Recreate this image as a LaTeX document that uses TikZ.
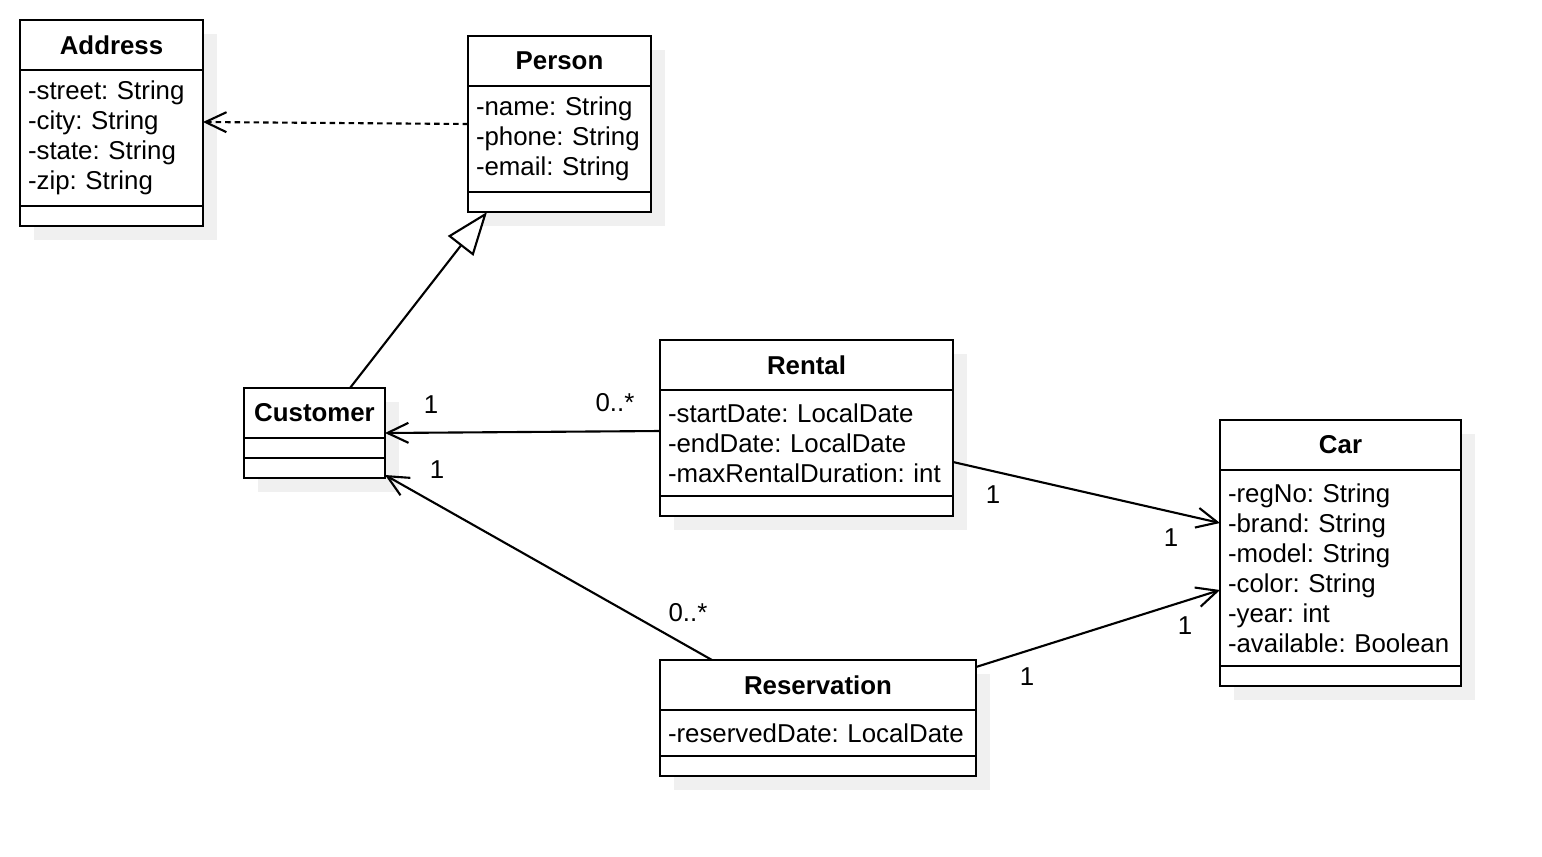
\documentclass[tikz,border=0pt]{standalone}
\usepackage{fontspec}
\setmainfont{Liberation Sans}
\usetikzlibrary{arrows.meta,backgrounds}
\frenchspacing
\tikzset{
  classhead/.style={draw,fill=white,outer sep=0pt,inner sep=0pt,minimum height=0.5cm,anchor=north west,font={\fontsize{7.35pt}{8.54pt}\selectfont\bfseries}},
  classattr/.style={draw,fill=white,outer sep=0pt,inner xsep=0.08cm,inner ysep=0pt,align=left,anchor=north west},
  classfoot/.style={draw,fill=white,outer sep=0pt,inner sep=0pt,minimum height=0.2cm,anchor=north west},
  boxshadow/.style={fill=black!6},
  assoc/.style={-{Straight Barb[length=0.21cm,width=0.2cm]}},
}
\begin{document}
\begin{tikzpicture}[line width=0.6pt,font=\fontsize{7.35pt}{8.54pt}\selectfont]
  \useasboundingbox (0,0) rectangle (15.42,8.56);
  \node[classhead,minimum width=1.83cm] (addrhead) at (0.20,8.36) {Address};
  \node[classattr,text width=1.67cm,minimum height=1.36cm] (addrattr) at (addrhead.south west) {-street: String\\-city: String\\-state: String\\-zip: String};
  \node[classfoot,minimum width=1.83cm] (addrfoot) at (addrattr.south west) {};
  \node[classhead,minimum width=1.83cm] (personhead) at (4.68,8.20) {Person};
  \node[classattr,text width=1.67cm,minimum height=1.06cm] (personattr) at (personhead.south west) {-name: String\\-phone: String\\-email: String};
  \node[classfoot,minimum width=1.83cm] (personfoot) at (personattr.south west) {};
  \node[classhead,minimum width=1.41cm] (custhead) at (2.44,4.68) {Customer};
  \node[classfoot,minimum width=1.41cm] (custmid) at (custhead.south west) {};
  \node[classfoot,minimum width=1.41cm] (custfoot) at (custmid.south west) {};
  \node[classhead,minimum width=2.93cm] (renthead) at (6.60,5.16) {Rental};
  \node[classattr,text width=2.77cm,minimum height=1.06cm] (rentattr) at (renthead.south west) {-startDate: LocalDate\\-endDate: LocalDate\\-maxRentalDuration: int};
  \node[classfoot,minimum width=2.93cm] (rentfoot) at (rentattr.south west) {};
  \node[classhead,minimum width=2.41cm] (carhead) at (12.20,4.36) {Car};
  \node[classattr,text width=2.25cm,minimum height=1.96cm] (carattr) at (carhead.south west) {-regNo: String\\-brand: String\\-model: String\\-color: String\\-year: int\\-available: Boolean};
  \node[classfoot,minimum width=2.41cm] (carfoot) at (carattr.south west) {};
  \node[classhead,minimum width=3.16cm] (reshead) at (6.60,1.96) {Reservation};
  \node[classattr,text width=3.00cm,minimum height=0.46cm] (resattr) at (reshead.south west) {-reservedDate: LocalDate};
  \node[classfoot,minimum width=3.16cm] (resfoot) at (resattr.south west) {};
  \begin{scope}[on background layer]
    \fill[boxshadow] ([shift={(0.14,-0.14)}]addrhead.north west) rectangle ([shift={(0.14,-0.14)}]addrfoot.south east);
    \fill[boxshadow] ([shift={(0.14,-0.14)}]personhead.north west) rectangle ([shift={(0.14,-0.14)}]personfoot.south east);
    \fill[boxshadow] ([shift={(0.14,-0.14)}]custhead.north west) rectangle ([shift={(0.14,-0.14)}]custfoot.south east);
    \fill[boxshadow] ([shift={(0.14,-0.14)}]renthead.north west) rectangle ([shift={(0.14,-0.14)}]rentfoot.south east);
    \fill[boxshadow] ([shift={(0.14,-0.14)}]carhead.north west) rectangle ([shift={(0.14,-0.14)}]carfoot.south east);
    \fill[boxshadow] ([shift={(0.14,-0.14)}]reshead.north west) rectangle ([shift={(0.14,-0.14)}]resfoot.south east);
  \end{scope}
  \draw[assoc,dash pattern=on 0.055cm off 0.04cm] ([yshift=-0.38cm]personattr.north west) -- ([yshift=-0.52cm]addrattr.north east);
  \draw[-{Triangle[length=0.43cm,width=0.32cm,fill=white]}] ([xshift=1.06cm]custhead.north west) -- ([xshift=0.19cm]personfoot.south west);
  \draw[assoc] ([yshift=-0.41cm]rentattr.north west) -- ([yshift=0.05cm]custhead.south east);
  \draw[assoc] ([xshift=0.52cm]reshead.north west) -- ([yshift=0.03cm]custfoot.south east);
  \draw[assoc] ([yshift=-0.72cm]rentattr.north east) -- ([yshift=-0.53cm]carattr.north west);
  \draw[assoc] ([yshift=-0.07cm]reshead.north east) -- ([yshift=-1.20cm]carattr.north west);
  \node (rentcustone) at (4.31,4.51) {1};
  \node (rentcustmany) at (6.15,4.53) {0..*};
  \node (rescustone) at (4.37,3.86) {1};
  \node (rescustmany) at (6.88,2.43) {0..*};
  \node (rentcarone) at (9.93,3.61) {1};
  \node (rentcartwo) at (11.71,3.18) {1};
  \node (rescarone) at (10.27,1.79) {1};
  \node (rescartwo) at (11.85,2.30) {1};
\end{tikzpicture}
\end{document}
